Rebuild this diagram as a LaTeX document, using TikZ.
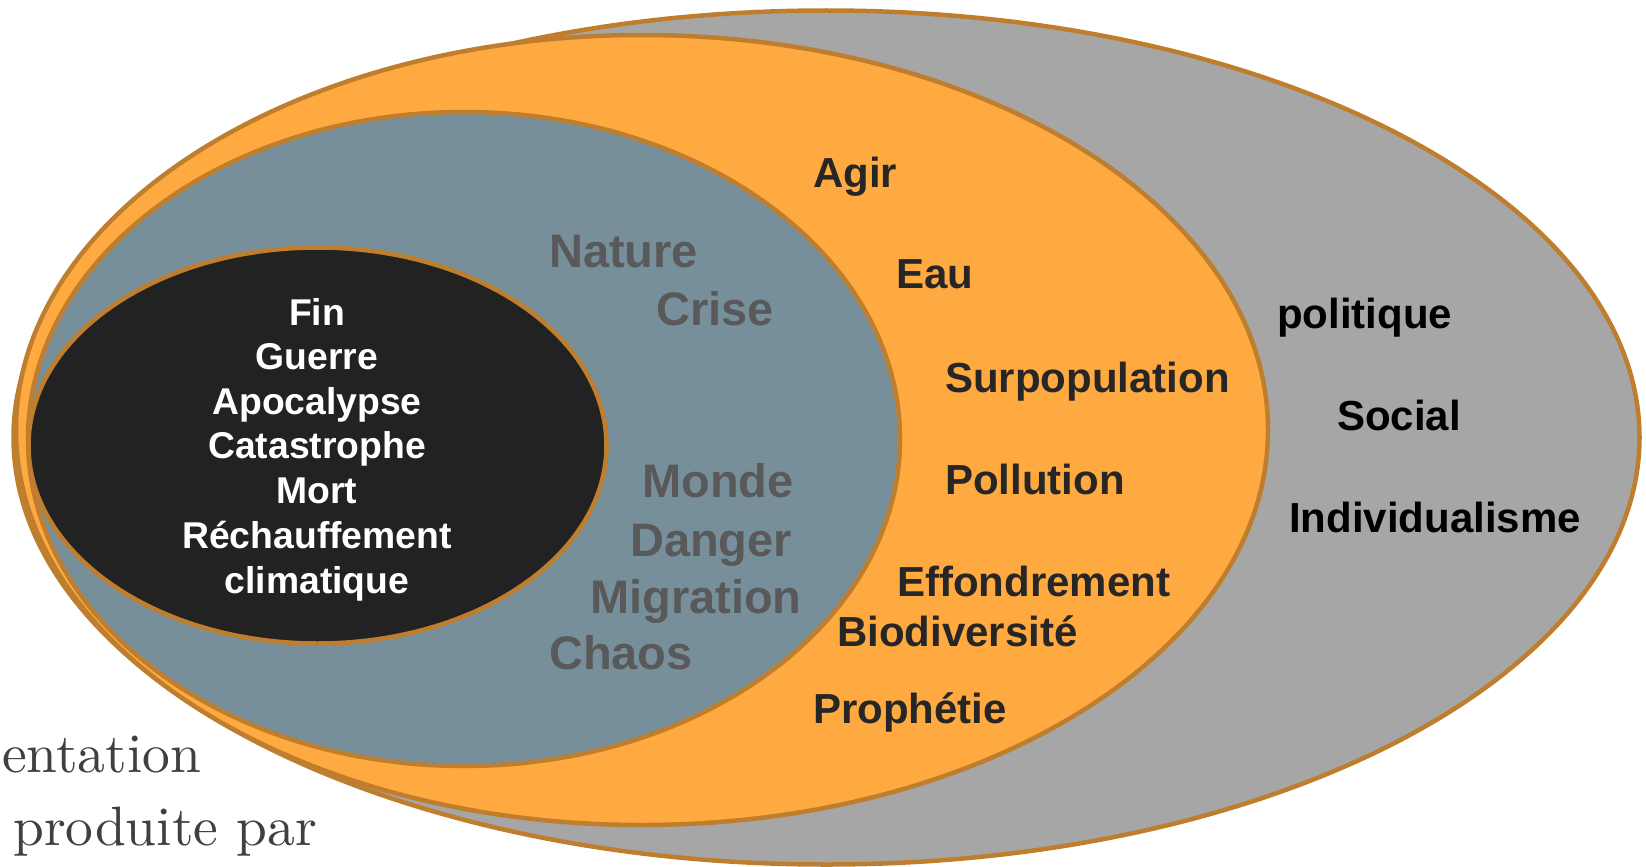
\documentclass[tikz,border=0pt]{standalone}
\usepackage{fontspec}
\setmainfont{Liberation Sans}
\newfontfamily\lmserif{lmroman10-regular.otf}
\definecolor{rim}{HTML}{BE7E2E}
\definecolor{greyfill}{HTML}{A6A6A6}
\definecolor{orangefill}{HTML}{FFAA40}
\definecolor{bluefill}{HTML}{778F9A}
\definecolor{corefill}{HTML}{222222}
\definecolor{bluetext}{HTML}{595959}
\definecolor{orangetext}{HTML}{262626}
\definecolor{serifgrey}{HTML}{404040}
\tikzset{
  ring/.style={draw=rim, line width=4.5pt},
  corelabel/.style={anchor=base, inner sep=0pt, text=white, font=\bfseries\fontsize{37.3}{44}\selectfont},
  bluelabel/.style={anchor=base west, inner sep=0pt, text=bluetext, font=\bfseries\fontsize{47}{54}\selectfont},
  orangelabel/.style={anchor=base west, inner sep=0pt, text=orangetext, font=\bfseries\fontsize{42}{48}\selectfont},
  greylabel/.style={anchor=base west, inner sep=0pt, text=black, font=\bfseries\fontsize{42}{48}\selectfont},
  seriflabel/.style={anchor=base west, inner sep=0pt, text=serifgrey, font=\lmserif\fontsize{55.5}{60}\selectfont}
}
\begin{document}
\begin{tikzpicture}[x=1pt,y=-1pt]
\useasboundingbox (0,0) rectangle (1646,867);
% rings
\draw[ring, fill=greyfill] (826.5,437.5) ellipse [x radius=813pt, y radius=427pt];
\draw[ring, fill=orangefill] (642,430) ellipse [x radius=626pt, y radius=395pt];
\draw[ring, fill=bluefill] (464,439) ellipse [x radius=436pt, y radius=327pt];
\draw[ring, fill=corefill] (317.5,445.5) ellipse [x radius=289pt, y radius=198pt];
% core labels
\node[corelabel] (fin) at (317,325) {Fin};
\node[corelabel] (guerre) at (317,369) {Guerre};
\node[corelabel] (apoc) at (317,414) {Apocalypse};
\node[corelabel] (cata) at (317,458) {Catastrophe};
\node[corelabel] (mort) at (317,503) {Mort};
\node[corelabel] (rech) at (317,548) {Réchauffement};
\node[corelabel] (clim) at (317,593) {climatique};
% blue ring labels
\node[bluelabel] (nature) at (549,267) {Nature};
\node[bluelabel] (crise) at (656,325) {Crise};
\node[bluelabel] (monde) at (642,497) {Monde};
\node[bluelabel] (danger) at (630,556) {Danger};
\node[bluelabel] (migration) at (590,613) {Migration};
\node[bluelabel] (chaos) at (549,669) {Chaos};
% orange ring labels
\node[orangelabel] (agir) at (813,187) {Agir};
\node[orangelabel] (eau) at (896,288) {Eau};
\node[orangelabel] (surpop) at (945,392) {Surpopulation};
\node[orangelabel] (pollution) at (945,494) {Pollution};
\node[orangelabel] (effond) at (897,596) {Effondrement};
\node[orangelabel] (biodiv) at (837,646) {Biodiversité};
\node[orangelabel] (prophetie) at (813,723) {Prophétie};
% grey ring labels
\node[greylabel] (politique) at (1277,328) {politique};
\node[greylabel] (social) at (1337,430) {Social};
\node[greylabel] (indiv) at (1289,532) {Individualisme};
% cut-off serif text
\node[seriflabel] (entation) at (2,772) {entation};
\node[seriflabel] (produite) at (13,845) {produite par};
\end{tikzpicture}
\end{document}
